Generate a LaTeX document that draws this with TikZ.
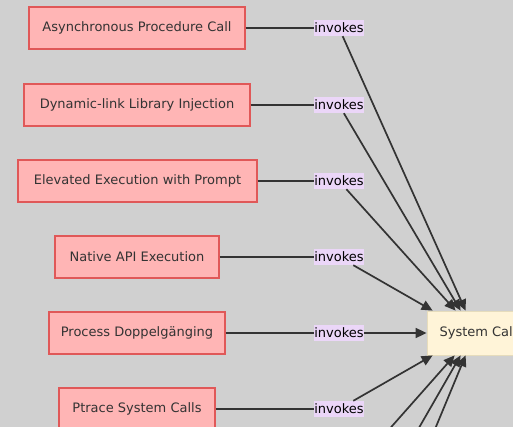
\documentclass[tikz,border=0pt]{standalone}
\usepackage{fontspec}
\setmainfont{DejaVu Sans}
\usetikzlibrary{arrows.meta}
\definecolor{bggray}{HTML}{D0D0D0}
\definecolor{techfill}{HTML}{FFB5B5}
\definecolor{techline}{HTML}{E05858}
\definecolor{labfill}{HTML}{EBD6F8}
\definecolor{sysfill}{HTML}{FFF4D8}
\definecolor{sysline}{HTML}{E6DCBC}
\definecolor{ink}{HTML}{333333}
\tikzset{
  techbox/.style={draw=techline, fill=techfill, line width=1.2pt, minimum height=42pt,
    inner sep=0pt, text=ink, font=\fontsize{13}{15}\selectfont},
  edgelab/.style={fill=labfill, inner sep=0pt, minimum width=49pt, minimum height=16pt,
    text=black, font=\fontsize{13}{15}\selectfont},
  sysbox/.style={draw=sysline, fill=sysfill, line width=0.8pt, minimum width=102pt,
    minimum height=44pt, inner sep=0pt, text=ink, font=\fontsize{13}{15}\selectfont},
  link/.style={draw=ink, line width=1.7pt},
  arrowlink/.style={link, -{Triangle[length=11pt,width=10pt]}},
}
\begin{document}
\begin{tikzpicture}[x=1pt,y=-1pt]
\clip (0,0) rectangle (513,427);
\fill[bggray] (0,0) rectangle (513,427);

% technique boxes
\node[techbox, minimum width=216pt] (apc) at (137,28) {Asynchronous Procedure Call};
\node[techbox, minimum width=226pt] (dll) at (137,105) {Dynamic-link Library Injection};
\node[techbox, minimum width=239pt] (elev) at (137.5,181) {Elevated Execution with Prompt};
\node[techbox, minimum width=164pt] (napi) at (137,257) {Native API Execution};
\node[techbox, minimum width=176pt] (dopp) at (137,333) {Process Doppelgänging};
\node[techbox, minimum width=156pt] (ptr) at (137,409) {Ptrace System Calls};

% edge labels
\node[edgelab] (l1) at (339,28) {invokes};
\node[edgelab] (l2) at (339,105) {invokes};
\node[edgelab] (l3) at (339,181) {invokes};
\node[edgelab] (l4) at (339,257) {invokes};
\node[edgelab] (l5) at (339,333) {invokes};
\node[edgelab] (l6) at (339,409) {invokes};

% target
\node[sysbox] (sys) at (478,333) {System Call};

% continuing edges below the visible area
\coordinate (l7) at (347,477);
\coordinate (l8) at (347,553);
\coordinate (l9) at (352,629);

% box to label
\draw[link] (apc) -- (l1);
\draw[link] (dll) -- (l2);
\draw[link] (elev) -- (l3);
\draw[link] (napi) -- (l4);
\draw[link] (dopp) -- (l5);
\draw[link] (ptr) -- (l6);

% label to target
\draw[arrowlink] (l1) -- ([xshift=39pt]sys.north west);
\draw[arrowlink] (l2) -- ([xshift=34pt]sys.north west);
\draw[arrowlink] (l3) -- ([xshift=29pt]sys.north west);
\draw[arrowlink] (l4) -- ([xshift=6pt]sys.north west);
\draw[arrowlink] (l5) -- (sys.west);
\draw[arrowlink] (l6) -- ([xshift=6pt]sys.south west);
\draw[arrowlink] (l7) -- ([xshift=28pt]sys.south west);
\draw[arrowlink] (l8) -- ([xshift=34pt]sys.south west);
\draw[arrowlink] (l9) -- ([xshift=39pt]sys.south west);
\end{tikzpicture}
\end{document}
